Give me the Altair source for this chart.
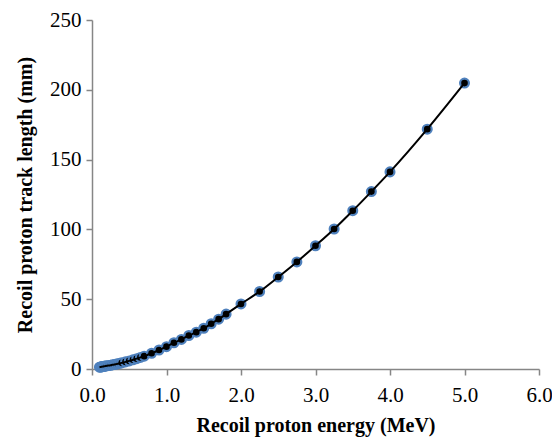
import altair as alt
import pandas as pd

energy_mev = [0.10, 0.11, 0.12, 0.13, 0.14, 0.15, 0.16, 0.17, 0.18, 0.20,
              0.225, 0.25, 0.275, 0.30, 0.325, 0.35, 0.375, 0.40, 0.45, 0.50,
              0.55, 0.60, 0.65, 0.70, 0.80, 0.90, 1.00, 1.10, 1.20, 1.30,
              1.40, 1.50, 1.60, 1.70, 1.80, 2.00, 2.25, 2.50, 2.75, 3.00,
              3.25, 3.50, 3.75, 4.00, 4.50, 5.00]
track_mm = [1.3, 1.4, 1.5, 1.6, 1.7, 1.8, 1.9, 2.0, 2.1, 2.3,
            2.5, 2.7, 3.0, 3.2, 3.5, 3.8, 4.1, 4.4, 5.1, 5.8,
            6.6, 7.4, 8.3, 9.2, 11.3, 13.6, 16.0, 18.8, 21.2, 24.0,
            26.4, 29.2, 32.4, 35.7, 39.3, 46.6, 55.5, 65.9, 76.7, 88.3,
            100.3, 113.4, 127.1, 141.2, 171.8, 204.8]

x_ticks = [0, 1, 2, 3, 4, 5, 6]
y_ticks = [0, 50, 100, 150, 200, 250]

df = pd.DataFrame({"E": energy_mev, "L": track_mm, "i": list(range(len(energy_mev)))})

FONT = "Liberation Serif"
AXIS_COLOR = "#868686"

x_enc = alt.X("E:Q", scale=alt.Scale(domain=[0, 6], nice=False),
              axis=alt.Axis(title="Recoil proton energy (MeV)", values=x_ticks, format=".1f",
                            grid=False, domainColor=AXIS_COLOR, tickColor=AXIS_COLOR,
                            domainWidth=1.5, tickWidth=1.5, tickSize=6,
                            labelFont=FONT, labelFontSize=21, labelColor="black",
                            labelPadding=9, titleFont=FONT, titleFontSize=20,
                            titleFontWeight="bold", titleColor="black", titlePadding=10,
                            labelFlush=False))
y_enc = alt.Y("L:Q", scale=alt.Scale(domain=[0, 250], nice=False),
              axis=alt.Axis(title="Recoil proton track length (mm)", values=y_ticks, format="d",
                            grid=False, domainColor=AXIS_COLOR, tickColor=AXIS_COLOR,
                            domainWidth=1.5, tickWidth=1.5, tickSize=6,
                            labelFont=FONT, labelFontSize=21, labelColor="black",
                            labelPadding=5, titleFont=FONT, titleFontSize=20,
                            titleFontWeight="bold", titleColor="black", titlePadding=14,
                            labelFlush=False))

points = alt.Chart(df).mark_circle(color="black", stroke="#4F81BD", strokeWidth=2.2,
                                   size=78, opacity=1, fillOpacity=1, strokeOpacity=1).encode(
    x=x_enc, y=y_enc, order=alt.Order("i:Q"))

line = alt.Chart(df).mark_line(color="black", strokeWidth=2, interpolate="monotone").encode(
    x="E:Q", y="L:Q", order=alt.Order("i:Q"))

chart = alt.layer(points, line).properties(
    width=447, height=349,
    autosize=alt.AutoSizeParams(type="none"),
    padding={"left": 84, "top": 12, "right": 13, "bottom": 75},
).configure_view(stroke=None)

chart.save("out.html", embed_options={"renderer": "svg", "actions": False})
